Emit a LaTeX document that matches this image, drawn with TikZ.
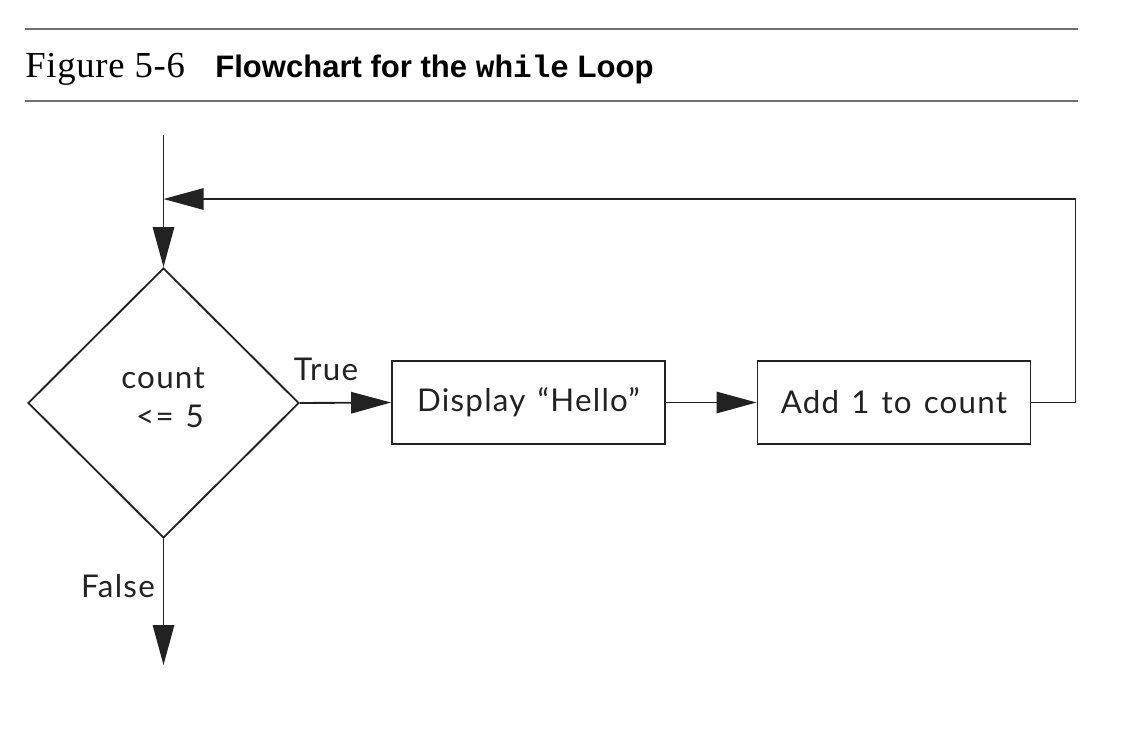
\documentclass[tikz,border=0pt]{standalone}
\usepackage{fontspec}
\setmainfont{Lato}[LetterSpace=4,WordSpace=1.3]
\newfontfamily\titleserif{Liberation Serif}[LetterSpace=2]
\newfontfamily\titlesans{Liberation Sans}
\newfontfamily\titlemono{Liberation Mono}
\usetikzlibrary{shapes.geometric,arrows.meta}
\definecolor{ink}{HTML}{222222}
\definecolor{rulegray}{HTML}{707070}
\tikzset{
  rulestyle/.style={draw=rulegray, line width=1.6pt},
  flowline/.style={draw=ink, line width=1.4pt},
  arr/.style={flowline, -{Triangle[length=30pt,width=16pt]}},
  procbox/.style={rectangle, draw=ink, line width=1.4pt, minimum width=204.75pt, minimum height=62.25pt, inner sep=0pt, font=\fontsize{23.5}{27}\selectfont, text=ink},
  decbox/.style={diamond, draw=ink, line width=1.4pt, aspect=1, minimum width=203.25pt, minimum height=202.5pt, inner sep=0pt},
  lbl/.style={font=\fontsize{23.5}{27}\selectfont, text=ink, inner sep=0pt}
}
\begin{document}
\begin{tikzpicture}[x=0.75pt,y=-0.75pt]
\useasboundingbox (0,0) rectangle (1140,740);
% header
\coordinate (r1a) at (25,29); \coordinate (r1b) at (1078,29);
\coordinate (r2a) at (25,101); \coordinate (r2b) at (1078,101);
\draw[rulestyle] (r1a) -- (r1b);
\draw[rulestyle] (r2a) -- (r2b);
\node[anchor=base west, inner sep=0pt, font=\titleserif\fontsize{27.5}{31}\selectfont] (fig) at (25,77) {Figure 5-6};
\node[anchor=base west, inner sep=0pt, font=\titlesans\bfseries\fontsize{23.3}{27}\selectfont] (title) at (215,77) {Flowchart for the {\titlemono\bfseries while} Loop};
% flow
\node[decbox] (d) at (163.5,403) {};
\node[lbl] (c1) at (163,378) {count};
\node[lbl] (c2) at (170,416) {<= 5};
\node[procbox] (b1) at (528.5,402.5) {Display “Hello”};
\node[procbox] (b2) at (894,402.5) {Add 1 to count};
\coordinate (start) at (163.5,135);
\coordinate (entry) at (163.5,199);
\coordinate (finish) at (163.5,665);
\draw[flowline] (start) -- (entry);
\draw[arr] (entry) -- (d.north);
\draw[arr] (d.east) -- (b1.west);
\draw[arr] (b1.east) -- (b2.west);
\draw[arr] (b2.east) -- ++(44,0) |- (entry);
\draw[arr] (d.south) -- (finish);
\node[lbl] (t) at (326,369) {True};
\node[lbl] (f) at (118,586) {False};
\end{tikzpicture}
\end{document}
